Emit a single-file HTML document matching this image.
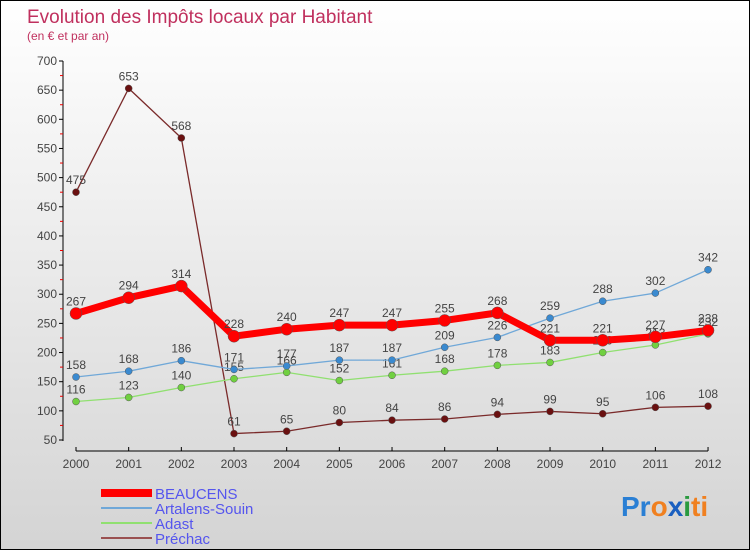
<!DOCTYPE html>
<html><head><meta charset="utf-8"><style>
body{margin:0}
#c{width:750px;height:550px;position:relative;overflow:hidden;box-sizing:border-box;border:1px solid #000;background:linear-gradient(#fff,#d4d4d4);font-family:"Liberation Sans",sans-serif}
svg{position:absolute;left:0;top:0}
</style></head><body>
<div id="c">
<svg id="s" width="750" height="550">
<text x="26" y="22" font-size="19" fill="#c0305e">Evolution des Impôts locaux par Habitant</text>
<text x="26" y="39" font-size="12" fill="#c0305e">(en € et par an)</text>
<text x="620" y="515" font-size="28" font-weight="bold"><tspan fill="#2a7fd4">Pr</tspan><tspan fill="#f08020">o</tspan><tspan fill="#1a5fc0">x</tspan><tspan fill="#2a9a40">i</tspan><tspan fill="#f08020">ti</tspan></text>
</svg></div>
<script>
const years=["2000","2001","2002","2003","2004","2005","2006","2007","2008","2009","2010","2011","2012"];
const yTicks=[50,100,150,200,250,300,350,400,450,500,550,600,650,700];
const beaucens=[267,294,314,228,240,247,247,255,268,221,221,227,238];
const artalens=[158,168,186,171,177,187,187,209,226,259,288,302,342];
const adast=[116,123,140,155,166,152,161,168,178,183,200,213,232];
const prechac=[475,653,568,61,65,80,84,86,94,99,95,106,108];
const names=["BEAUCENS","Artalens-Souin","Adast","Préchac"];
const svg=document.getElementById('s');
const NS="http://www.w3.org/2000/svg";
function X(i){return 75+i*52.67;}
function Y(v){return 439-(v-50)*(379/650);}
function mk(t,a,p){const e=document.createElementNS(NS,t);for(const k in a)e.setAttribute(k,a[k]);(p||svg).appendChild(e);return e;}
// axes
let ax=mk('line',{x1:62,y1:60,x2:62,y2:440,stroke:'#000','stroke-width':1});


let bx=mk('line',{x1:75,y1:450,x2:707,y2:450,stroke:'#000','stroke-width':1});


yTicks.forEach((v,i)=>{
 mk('line',{x1:58,y1:Y(v),x2:62,y2:Y(v),stroke:'#000'});
 if(i<yTicks.length-1)mk('line',{x1:59,y1:Y(v+25),x2:62,y2:Y(v+25),stroke:'#e00'});
 let t=mk('text',{x:56,y:Y(v)+4,'font-size':12,fill:'#444','text-anchor':'end'});t.textContent=v;
 
 
});
years.forEach((y,i)=>{
 mk('line',{x1:X(i),y1:446,x2:X(i),y2:450,stroke:'#000'});
 let t=mk('text',{x:X(i),y:467,'font-size':12,fill:'#444','text-anchor':'middle'});t.textContent=y;
 
 
});
function series(d,col,dot,w,r,name){
 const g=mk('g',{});
 
 
 mk('polyline',{points:d.map((v,i)=>X(i)+','+Y(v)).join(' '),fill:'none',stroke:col,'stroke-width':w,'stroke-linejoin':'round'},g);
 d.forEach((v,i)=>{
  let c=mk('circle',{cx:X(i),cy:Y(v),r:r,fill:dot,stroke:'#555','stroke-width':0.5},g);
  
  
  let t=mk('text',{x:X(i),y:Y(v)-8,'font-size':12,fill:'#444','text-anchor':'middle'},g);t.textContent=v;
  
  
 });
}
series(prechac,'#7a2a2a','#6a1010',1.3,3.5,'prechac');
series(adast,'#90e070','#70d040',1.3,3.5,'adast');
series(artalens,'#70a8d8','#3a8ad0',1.3,3.5,'artalens');
series(beaucens,'#f00','#f00',7,6,'beaucens');
const lc=['#f00','#70a8d8','#90e070','#9a5050'],lw=[8,2,2,2];
names.forEach((n,i)=>{
 const y=492+i*15;
 mk('line',{x1:100,y1:y,x2:151,y2:y,stroke:lc[i],'stroke-width':lw[i]});
 let t=mk('text',{x:154,y:y+6,'font-size':15,fill:'#5555ee'});t.textContent=n;
 
 
});
</script></body></html>
